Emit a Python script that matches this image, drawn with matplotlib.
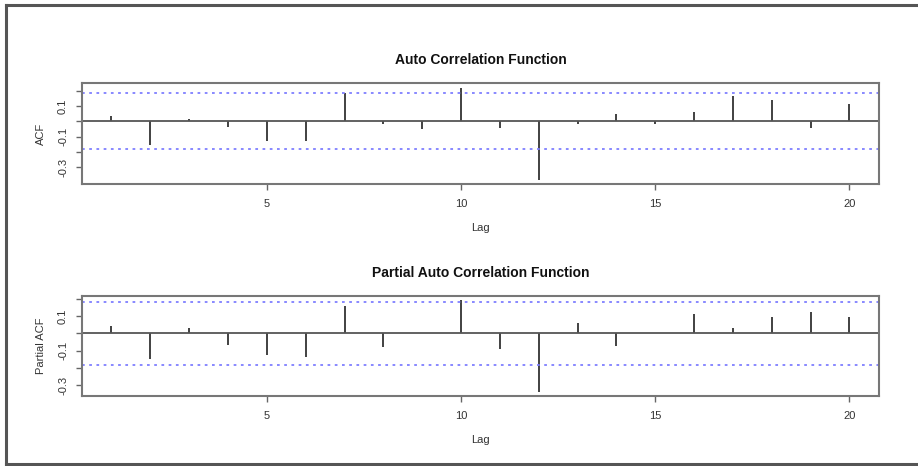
import matplotlib.pyplot as plt
from matplotlib.lines import Line2D

plt.rcParams['font.family'] = ['Liberation Sans', 'DejaVu Sans']

lags = list(range(1, 21))
acf_vals = [0.035, -0.155, 0.012, -0.04, -0.13, -0.13, 0.185, -0.02, -0.05, 0.22,
            -0.045, -0.385, -0.015, 0.05, -0.02, 0.06, 0.165, 0.14, -0.045, 0.115]
pacf_vals = [0.042, -0.15, 0.029, -0.068, -0.125, -0.135, 0.158, -0.08, 0.0, 0.193,
             -0.092, -0.337, 0.058, -0.073, 0.0, 0.11, 0.032, 0.092, 0.121, 0.092]
ci = 0.183
yticks = [-0.3, -0.2, -0.1, 0.0, 0.1, 0.2]
ytick_labels = ['-0.3', '', '-0.1', '', '0.1', '']
xticks = [5, 10, 15, 20]

fig = plt.figure(figsize=(9.18, 4.66), dpi=100)

# outer frame (left, top, bottom edges; right edge is cut off)
x0, x1 = 6 / 918, 1.0
y0, y1 = 1 - 464 / 466, 1 - 5 / 466
for xs, ys in [([x0, x0], [y0, y1]), ([x0, x1], [y1, y1]), ([x0, x1], [y0, y0])]:
    fig.add_artist(Line2D(xs, ys, transform=fig.transFigure, color='#555555',
                          linewidth=2.2, solid_capstyle='projecting'))

panels = [
    (acf_vals, 'Auto Correlation Function', 'ACF', [0.0893, 0.6052, 0.8682, 0.2167], (-0.41, 0.25)),
    (pacf_vals, 'Partial Auto Correlation Function', 'Partial ACF', [0.0893, 0.1509, 0.8682, 0.2139], (-0.36, 0.216)),
]

txt = '#333333'
for vals, title, ylab, pos, ylim in panels:
    ax = fig.add_axes(pos)
    ax.vlines(lags, 0, vals, color='#333333', linewidth=1.3)
    ax.axhline(0, color='#555555', linewidth=1.3)
    ax.axhline(ci, color='#7f7fff', linestyle=(0, (1.5, 2.5)), linewidth=1.3)
    ax.axhline(-ci, color='#7f7fff', linestyle=(0, (1.5, 2.5)), linewidth=1.3)
    ax.set_xlim(0.24, 20.76)
    ax.set_ylim(*ylim)
    ax.set_xticks(xticks)
    ax.set_yticks(yticks)
    ax.set_yticklabels(ytick_labels, rotation=90, va='center')
    for s in ax.spines.values():
        s.set_color('#777777')
        s.set_linewidth(1.5)
    ax.tick_params(colors='#666666', labelcolor=txt, labelsize=8, length=4, width=1)
    ax.tick_params(axis='x', pad=7)
    ax.tick_params(axis='y', pad=6)
    ax.set_title(title, fontsize=10, fontweight='bold', color='#111111', pad=14)
    ax.set_xlabel('Lag', fontsize=8, color=txt, labelpad=10)
    ax.set_ylabel(ylab, fontsize=8, color=txt, labelpad=9)

fig.savefig('out.png', dpi=100)
